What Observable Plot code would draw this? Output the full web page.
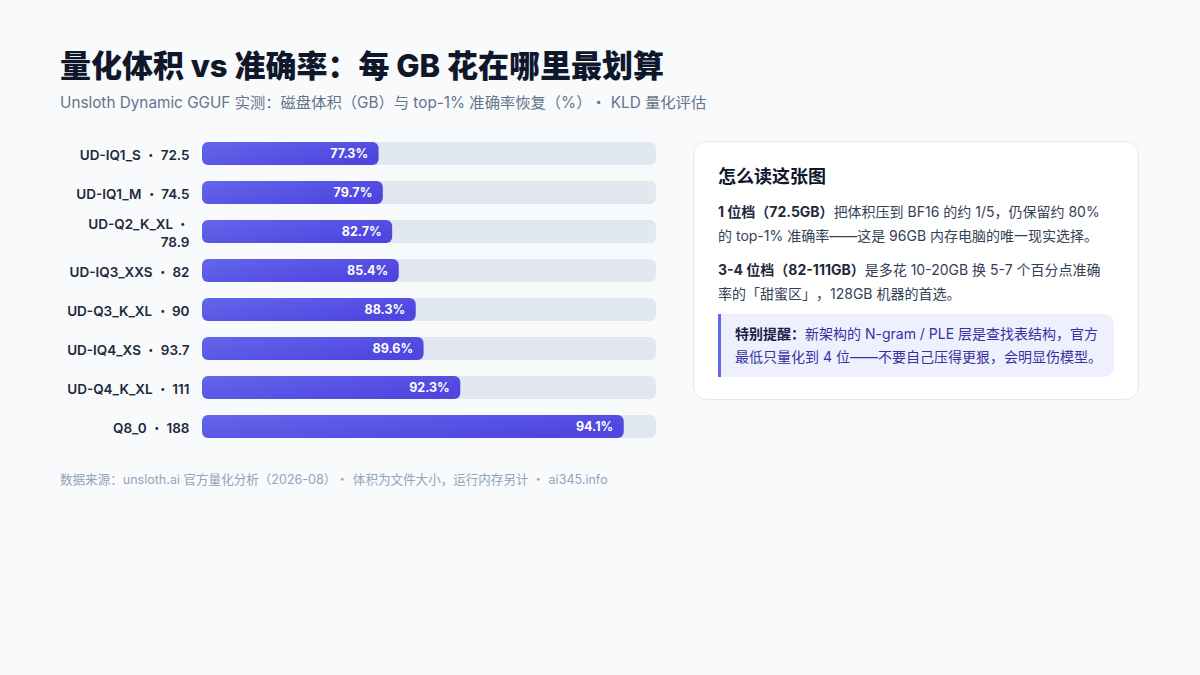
<!DOCTYPE html>
<html lang="zh-CN">
<head>
<meta charset="utf-8">
<script src="https://cdn.jsdelivr.net/npm/d3@7"></script>
<script src="https://cdn.jsdelivr.net/npm/@observablehq/plot@0.6"></script>
<style>
  @font-face { font-family: "PunctSC"; src: local("Noto Sans CJK SC"), local("NotoSansCJKsc-Regular"); unicode-range: U+00B7; font-weight: 100 900; }
  html, body { margin: 0; padding: 0; background: #f8fafc; }
  body { font-family: PunctSC, Inter, "Noto Sans CJK SC", "Noto Sans", sans-serif; text-spacing-trim: space-all; }
  #page { position: relative; width: 1200px; height: 675px; overflow: hidden; }
  h1 { position: absolute; left: 60px; top: 44px; margin: 0; font-size: 31px; font-weight: 800; line-height: 44px; color: #0f172a; white-space: nowrap; letter-spacing: 0; }
  .sub { position: absolute; left: 60px; top: 92px; font-size: 15.3px; line-height: 22px; color: #64748b; white-space: nowrap; }
  #chart { position: absolute; left: 60px; top: 126px; }
  .card { position: absolute; left: 693px; top: 141px; width: 446px; box-sizing: border-box; padding: 22px 24px 22px 24px; background: #ffffff; border: 1px solid #e2e8f0; border-radius: 14px; }
  .card h2 { margin: 0; font-size: 18px; line-height: 26px; font-weight: 700; color: #0f172a; }
  .card p { margin: 10px 0 0 0; font-size: 14px; line-height: 24px; color: #334155; white-space: nowrap; }
  .card p b { color: #1e293b; font-weight: 700; }
  .note { margin-top: 8px; padding: 9px 14px; background: #eef0fd; border-left: 3px solid #6366f1; border-radius: 0 10px 10px 0; font-size: 14px; line-height: 22.5px; color: #3730a3; white-space: nowrap; }
  .note b { color: #1e1b4b; font-weight: 700; }
  .foot { position: absolute; left: 60px; top: 470px; font-size: 12.55px; line-height: 20px; color: #94a3b8; white-space: nowrap; }
</style>
</head>
<body>
<div id="page">
  <h1>量化体积 vs 准确率：每 GB 花在哪里最划算</h1>
  <div class="sub">Unsloth Dynamic GGUF 实测：磁盘体积（GB）与 top-1% 准确率恢复（%）· KLD 量化评估</div>
  <div id="chart"></div>
  <div class="card">
    <h2>怎么读这张图</h2>
    <p><b>1 位档（72.5GB）</b>把体积压到 BF16 的约 1/5，仍保留约 80%<br>的 top-1% 准确率——这是 96GB 内存电脑的唯一现实选择。</p>
    <p><b>3-4 位档（82-111GB）</b>是多花 10-20GB 换 5-7 个百分点准确<br>率的「甜蜜区」，128GB 机器的首选。</p>
    <div class="note"><b>特别提醒：</b>新架构的 N-gram / PLE 层是查找表结构，官方<br>最低只量化到 4 位——不要自己压得更狠，会明显伤模型。</div>
  </div>
  <div class="foot">数据来源：unsloth.ai 官方量化分析（2026-08）· 体积为文件大小，运行内存另计 · ai345.info</div>
</div>
<script>
// ---- data ----
const models = ["UD-IQ1_S", "UD-IQ1_M", "UD-Q2_K_XL", "UD-IQ3_XXS", "UD-Q3_K_XL", "UD-IQ4_XS", "UD-Q4_K_XL", "Q8_0"];
const sizesGB = [72.5, 74.5, 78.9, 82, 90, 93.7, 111, 188];
const accuracyPct = [77.3, 79.7, 82.7, 85.4, 88.3, 89.6, 92.3, 94.1];

// scale extent for bar length (size in GB)
const xMin = -10.7, xMax = 203.2;

const fontStack = 'PunctSC, Inter, "Noto Sans CJK SC", sans-serif';
const labelFont = '600 13.5px ' + fontStack;

function draw() {
  const ctx = document.createElement("canvas").getContext("2d");
  ctx.font = labelFont;
  const measure = s => ctx.measureText(s).width;
  // calibrate wrap width against the reference (first label ≈ 111px, wrap limit ≈ 129px)
  const wrapLimit = 129 * measure("UD-IQ1_S · 72.5") / 111;
  function wrap(s) {
    if (measure(s) <= wrapLimit) return s;
    const words = s.split(" ");
    const lines = [];
    let cur = "";
    for (const w of words) {
      const t = cur ? cur + " " + w : w;
      if (cur && measure(t) > wrapLimit) { lines.push(cur); cur = w; } else cur = t;
    }
    if (cur) lines.push(cur);
    return lines.join("\n");
  }

  const rows = models.map((m, i) => ({
    model: m,
    size: sizesGB[i],
    acc: accuracyPct[i],
    label: wrap(`${m} · ${sizesGB[i]}`)
  }));

  const plot = Plot.plot({
    width: 596,
    height: 328,
    marginLeft: 142,
    marginRight: 0,
    marginTop: 0,
    marginBottom: 0,
    style: { background: "transparent", fontFamily: fontStack, overflow: "visible" },
    x: { domain: [xMin, xMax], axis: null },
    y: { domain: models, axis: null, padding: 0.4 },
    marks: [
      Plot.barX(rows, { y: "model", x1: () => xMin, x2: () => xMax, fill: "#e2e8f0", rx: 6 }),
      Plot.barX(rows, { y: "model", x1: () => xMin, x2: "size", fill: "url(#barGrad)", rx: 6 }),
      Plot.text(rows, {
        y: "model", x: "size", text: d => `${d.acc}%`,
        textAnchor: "end", dx: -11, fill: "#ffffff", fontSize: 12.5, fontWeight: 700
      }),
      Plot.text(rows, {
        y: "model", x: () => xMin, text: "label",
        textAnchor: "end", dx: -13, fill: "#1e293b", fontSize: 13.5, fontWeight: 600,
        lineAnchor: "middle", lineHeight: 1.4
      })
    ]
  });

  const defs = d3.select(plot).insert("defs", ":first-child");
  const g = defs.append("linearGradient").attr("id", "barGrad")
    .attr("x1", "0").attr("y1", "0").attr("x2", "1").attr("y2", "0.6");
  g.append("stop").attr("offset", "0%").attr("stop-color", "#6366ea");
  g.append("stop").attr("offset", "100%").attr("stop-color", "#4f46e1");

  const holder = document.getElementById("chart");
  holder.innerHTML = "";
  holder.appendChild(plot);
}

draw();
if (document.fonts && document.fonts.load) {
  document.fonts.load(labelFont, "·").then(draw).catch(() => {});
}
</script>
</body>
</html>
